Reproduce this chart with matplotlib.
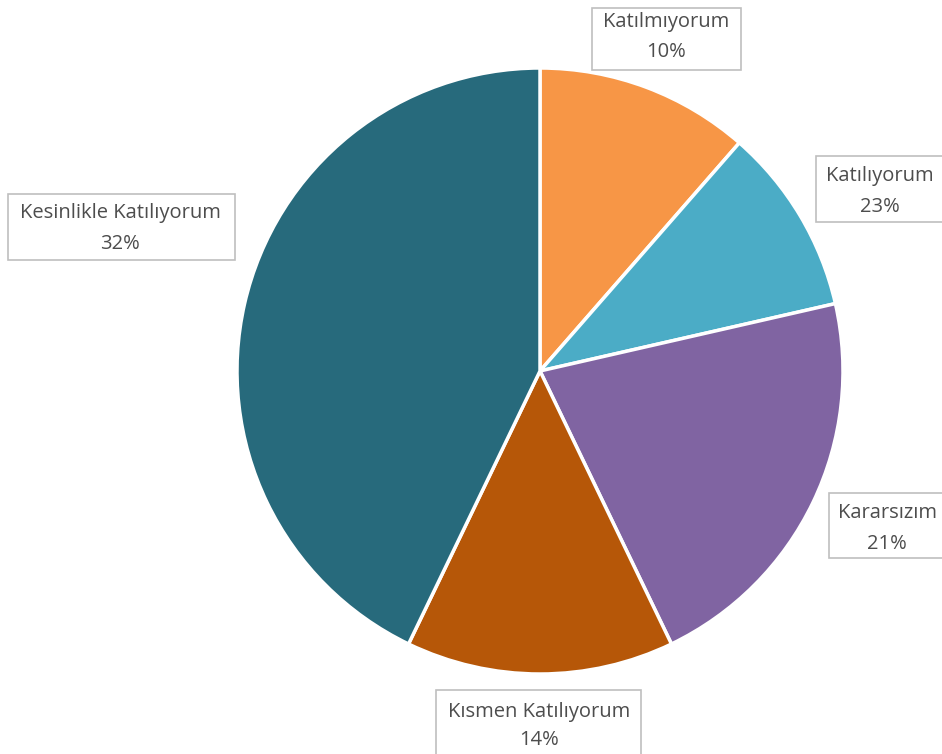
import matplotlib
matplotlib.use("Agg")
import matplotlib.pyplot as plt
from matplotlib.patches import Rectangle

categories = ["Katılmıyorum", "Katılıyorum", "Kararsızım", "Kısmen Katılıyorum", "Kesinlikle Katılıyorum"]
values = [8, 7, 15, 10, 30]
label_pcts = [10, 23, 21, 14, 32]
colors = ["#F79646", "#4BACC6", "#8064A2", "#B65708", "#276A7C"]

W, H = 942, 754
fig = plt.figure(figsize=(W / 100, H / 100), dpi=100)
ax = fig.add_axes([0, 0, 1, 1])

cx, cy, r = 540, H - 371, 303
ax.pie(values, colors=colors, startangle=90, counterclock=False,
       center=(cx, cy), radius=r, frame=True,
       wedgeprops=dict(edgecolor="white", linewidth=2.5))
ax.set_xlim(0, W)
ax.set_ylim(0, H)
ax.set_aspect("equal")
ax.axis("off")

# label boxes: (x0, y0_top, x1, y1_bottom) in pixel coords
boxes = [(592, 8, 741, 70), (816, 156, 946, 222), (829, 493, 946, 558),
         (436, 690, 641, 760), (8, 194, 235, 260)]
text_pos = [(666, 22, 52), (880, 176, 207), (887, 513, 544), (539, 712, 740), (120, 213, 244)]

for cat, pct, (x0, y0, x1, y1), (tx, ty1, ty2) in zip(categories, label_pcts, boxes, text_pos):
    ax.add_patch(Rectangle((x0, H - y1), x1 - x0, y1 - y0, facecolor="white",
                           edgecolor="#BFBFBF", linewidth=1.2, zorder=3))
    ax.text(tx, H - ty1, cat, ha="center", va="center", fontsize=14.5,
            color="#4D4D4D", family="Open Sans", zorder=4)
    ax.text(tx, H - ty2, f"{pct}%", ha="center", va="center", fontsize=14.5,
            color="#4D4D4D", family="Open Sans", zorder=4)

fig.savefig("out.png", dpi=100)
